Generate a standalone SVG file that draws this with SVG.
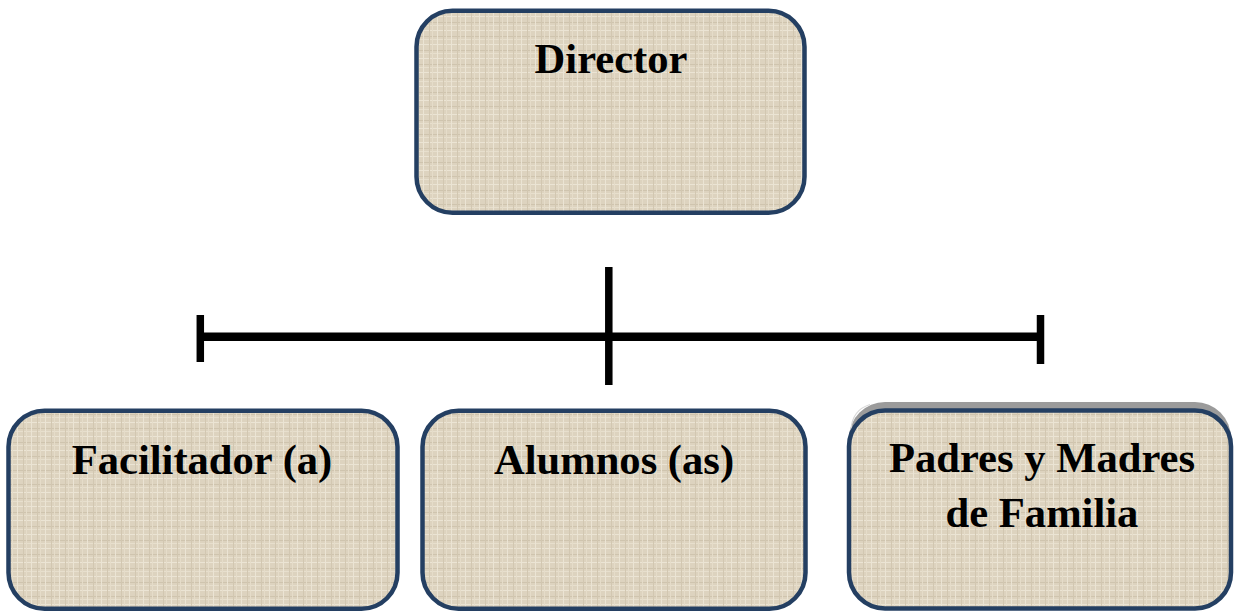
<svg xmlns="http://www.w3.org/2000/svg" width="1236" height="612" viewBox="0 0 1236 612">
<style>
.box{fill:url(#linen);stroke:#243f62;stroke-width:4.5}
.lbl{font-family:"Liberation Serif","Times New Roman",serif;font-weight:bold;font-size:42.6px;fill:#000;text-anchor:middle}
.ln{stroke:#000;fill:none}
</style>
<defs>
<pattern id="linen" patternUnits="userSpaceOnUse" width="14" height="14">
<rect width="14" height="14" fill="#ddd3bf"/>
<rect x="0" y="2" width="14" height="1" fill="#ebe4d4"/>
<rect x="0" y="8" width="14" height="1" fill="#cfc4ae"/>
<rect x="0" y="11" width="14" height="1" fill="#e7dfcd"/>
<rect x="3" y="0" width="1" height="14" fill="#ebe4d4"/>
<rect x="9" y="0" width="1" height="14" fill="#d2c7b1"/>
<rect x="12" y="0" width="1" height="14" fill="#e5dcc9"/>
</pattern>
</defs>
<g id="director">
<rect class="box" x="416.5" y="10.8" width="388" height="202" rx="36"/>
<text class="lbl" x="611" y="73">Director</text>
</g>
<g id="facilitador">
<rect class="box" x="8.5" y="410.8" width="389" height="198" rx="36"/>
<text class="lbl" x="202" y="474">Facilitador (a)</text>
</g>
<g id="alumnos">
<rect class="box" x="422.5" y="410.8" width="383" height="198" rx="36"/>
<text class="lbl" x="614" y="474">Alumnos (as)</text>
</g>
<g id="padres">
<rect x="849" y="402" width="382" height="206" rx="36" fill="#9b9b9b"/>
<path d="M870 404.5 Q852 410 851 430" stroke="#d8d8d8" stroke-width="1.2" fill="none"/>
<rect class="box" x="849" y="410.5" width="382" height="198" rx="36"/>
<text class="lbl" x="1042" y="472">Padres y Madres</text>
<text class="lbl" x="1042" y="527">de Familia</text>
</g>
<g id="connectors">
<line class="ln" x1="200" y1="336.8" x2="1040" y2="336.8" stroke-width="8.5"/>
<line class="ln" x1="608.8" y1="267" x2="608.8" y2="385" stroke-width="7.5"/>
<line class="ln" x1="200.3" y1="315" x2="200.3" y2="362" stroke-width="7.5"/>
<line class="ln" x1="1040.5" y1="315" x2="1040.5" y2="364" stroke-width="7.5"/>
</g>
</svg>
